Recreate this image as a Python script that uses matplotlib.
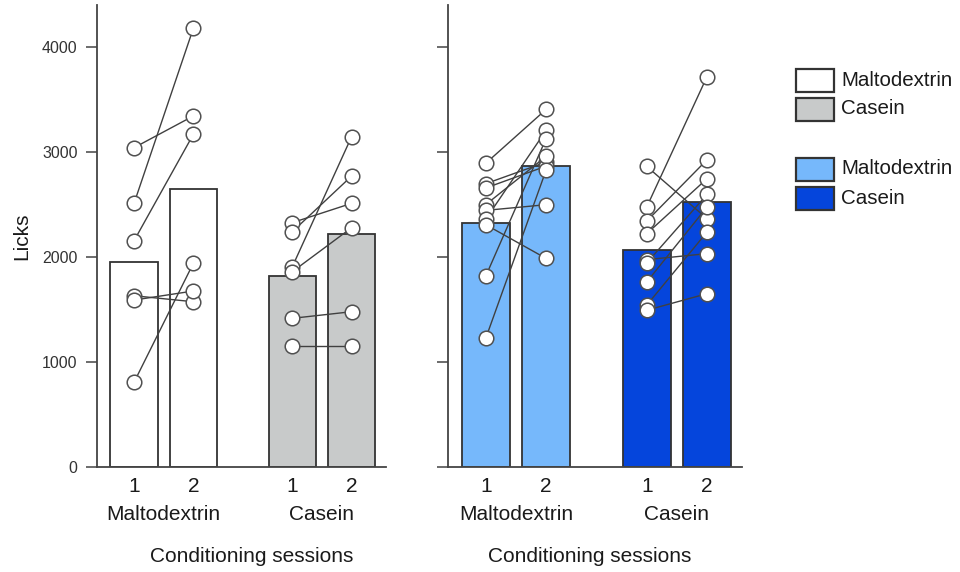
import matplotlib
matplotlib.use("Agg")
import matplotlib.pyplot as plt
import matplotlib.transforms as mtransforms
from matplotlib.patches import Rectangle
import numpy as np

plt.rcParams["font.family"] = ["Liberation Sans", "DejaVu Sans"]

# ── data (licks per rat, session 1 -> session 2, paired by index) ──────────
GROUPS = ["Maltodextrin", "Casein"]
SESSIONS = ["1", "2"]

left_malto_s1 = [3041, 2511, 2155, 1631, 1590, 807]
left_malto_s2 = [3343, 4178, 3168, 1574, 1676, 1940]
left_casein_s1 = [2327, 2241, 1908, 1860, 1416, 1155]
left_casein_s2 = [2511, 2771, 3146, 2279, 1479, 1155]

right_malto_s1 = [2892, 2698, 2657, 2498, 2444, 2359, 2308, 1816, 1224]
right_malto_s2 = [3405, 2904, 2865, 2958, 2498, 3205, 1987, 3126, 2825]
right_casein_s1 = [2476, 2863, 2342, 2222, 1975, 1943, 1762, 1541, 1493]
right_casein_s2 = [3718, 2365, 2926, 2746, 2032, 2596, 2476, 2238, 1651]

YTICKS = [0, 1000, 2000, 3000, 4000]

# ── style ───────────────────────────────────────────────────────────────────
LEFT_COLORS = ["#ffffff", "#c8caca"]
RIGHT_COLORS = ["#76b8fb", "#0545dc"]
EDGE = "#333333"
TEXT = "#1a1a1a"
LINE = "#404040"
BAR_W = 0.8
POS = [0.0, 1.0, 2.67, 3.67]   # bar centres: malto 1, 2, casein 1, 2
FS = 15


def draw_panel(ax, groups, colors, ylabel=True):
    for g, (s1, s2) in enumerate(groups):
        x1, x2 = POS[2 * g], POS[2 * g + 1]
        ax.bar([x1, x2], [np.mean(s1), np.mean(s2)], width=BAR_W,
               color=colors[g], edgecolor=EDGE, linewidth=1.3, zorder=2)
        for a, b in zip(s1, s2):
            ax.plot([x1, x2], [a, b], color=LINE, lw=1.0, zorder=3)
        ax.plot([x1] * len(s1), s1, "o", ms=10.5, mfc="white",
                mec="#505050", mew=1.1, zorder=4, ls="none")
        ax.plot([x2] * len(s2), s2, "o", ms=10.5, mfc="white",
                mec="#505050", mew=1.1, zorder=4, ls="none")

    ax.set_xlim(-0.625, 4.25)
    ax.set_ylim(0, 4400)
    ax.set_yticks(YTICKS)
    ax.set_xticks(POS)
    ax.set_xticklabels(SESSIONS * 2, fontsize=FS, color=TEXT)
    ax.tick_params(axis="x", length=0, pad=7)
    ax.tick_params(axis="y", length=8, width=1.1, color="#444444", pad=6,
                   labelsize=11.5, labelcolor="#333333", direction="out")
    for side in ["top", "right"]:
        ax.spines[side].set_visible(False)
    for side in ["left", "bottom"]:
        ax.spines[side].set_color("#444444")
        ax.spines[side].set_linewidth(1.3)
    if ylabel:
        ax.set_ylabel("Licks", fontsize=FS, color=TEXT, labelpad=8)
    else:
        ax.set_yticklabels([])

    trans = mtransforms.blended_transform_factory(ax.transData, ax.transAxes)
    for g, name in enumerate(GROUPS):
        xc = (POS[2 * g] + POS[2 * g + 1]) / 2
        ax.text(xc, -0.103, name, transform=trans, ha="center", va="center",
                fontsize=FS, color=TEXT)


fig = plt.figure(figsize=(9.6, 5.72), dpi=100)
ax1 = fig.add_axes([97 / 960, 105 / 572, 289 / 960, 462 / 572])
ax2 = fig.add_axes([448 / 960, 105 / 572, 294 / 960, 462 / 572])

draw_panel(ax1, [(left_malto_s1, left_malto_s2),
                 (left_casein_s1, left_casein_s2)], LEFT_COLORS)
draw_panel(ax2, [(right_malto_s1, right_malto_s2),
                 (right_casein_s1, right_casein_s2)], RIGHT_COLORS,
           ylabel=False)

ax1.text(0.535, -0.194, "Conditioning sessions", transform=ax1.transAxes,
         ha="center", va="center", fontsize=FS, color=TEXT)
ax2.text(0.483, -0.194, "Conditioning sessions", transform=ax2.transAxes,
         ha="center", va="center", fontsize=FS, color=TEXT)

# ── legend (two blocks, drawn by hand in figure pixels) ─────────────────────
legend_rows = [(LEFT_COLORS[0], GROUPS[0], 80), (LEFT_COLORS[1], GROUPS[1], 109),
               (RIGHT_COLORS[0], GROUPS[0], 169), (RIGHT_COLORS[1], GROUPS[1], 198)]
W, H = 960, 572
for color, label, yc in legend_rows:
    fig.add_artist(Rectangle((796 / W, 1 - (yc + 11.5) / H), 38 / W, 23 / H,
                             transform=fig.transFigure, facecolor=color,
                             edgecolor=EDGE, linewidth=1.6))
    fig.text(841 / W, 1 - yc / H, label, ha="left", va="center",
             fontsize=14.8, color=TEXT)

fig.savefig("out.png", dpi=100)
